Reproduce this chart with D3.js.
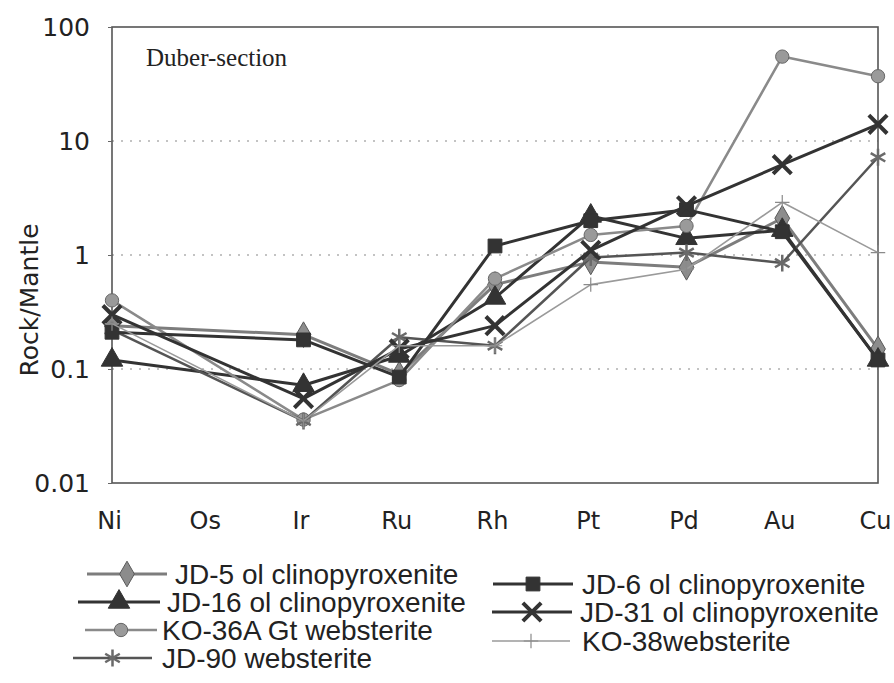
<!DOCTYPE html>
<html>
<head>
<meta charset="utf-8">
<script src="https://cdn.jsdelivr.net/npm/d3@7"></script>
<style>
  body { margin: 0; background: #fff; }
  svg { display: block; }
</style>
</head>
<body>
<svg id="chart" width="894" height="683"></svg>
<script>
// Element order along the x axis (Os has no analyses)
const categories = ["Ni", "Os", "Ir", "Ru", "Rh", "Pt", "Pd", "Au", "Cu"];
const yTickValues = [0.01, 0.1, 1, 10, 100];
const gridValues = [0.1, 1, 10];

const seriesNames = [
  "JD-5 ol clinopyroxenite",
  "JD-16 ol clinopyroxenite",
  "KO-36A Gt websterite",
  "JD-90 websterite",
  "JD-6 ol clinopyroxenite",
  "JD-31 ol clinopyroxenite",
  "KO-38websterite"
];

// Rock/Mantle ratios, one value per element (null = not determined)
const jd5  = [0.24, null, 0.20, 0.09, 0.55, 0.87, 0.78, 2.1, 0.15];
const jd16 = [0.12, null, 0.072, 0.13, 0.42, 2.2, 1.4, 1.65, 0.12];
const ko36a = [0.40, null, 0.036, 0.08, 0.62, 1.5, 1.8, 55, 37];
const jd90 = [0.22, null, 0.035, 0.19, 0.16, 0.95, 1.05, 0.85, 7.2];
const jd6  = [0.21, null, 0.18, 0.085, 1.2, 2.0, 2.5, 1.6, 0.12];
const jd31 = [0.30, null, 0.055, 0.15, 0.24, 1.1, 2.7, 6.2, 14];
const ko38 = [0.25, null, 0.035, 0.16, 0.16, 0.55, 0.75, 2.9, 1.05];

const seriesValues = [jd5, jd16, ko36a, jd90, jd6, jd31, ko38];

// Drawing styles for each sample
const styles = [
  { line: "#7d7d7d", width: 3,   sym: d3.symbolDiamond,  size: 190, fill: "#8c8c8c", stroke: "#5a5a5a", sw: 1 },
  { line: "#333",    width: 3,   sym: d3.symbolTriangle, size: 200, fill: "#333",    stroke: "#333",    sw: 1 },
  { line: "#8a8a8a", width: 2.5, sym: d3.symbolCircle,   size: 140, fill: "#9a9a9a", stroke: "#666",    sw: 1 },
  { line: "#555",    width: 2.5, sym: d3.symbolAsterisk, size: 200, fill: "none",    stroke: "#6a6a6a", sw: 2.5 },
  { line: "#333",    width: 3,   sym: d3.symbolSquare,   size: 190, fill: "#333",    stroke: "#333",    sw: 1 },
  { line: "#333",    width: 3,   sym: d3.symbolX,        size: 220, fill: "none",    stroke: "#333",    sw: 4 },
  { line: "#9a9a9a", width: 1.6, sym: d3.symbolPlus,     size: 70,  fill: "none",    stroke: "#8a8a8a", sw: 1.2 }
];

// Legend layout: two columns
const legendLayout = [
  { x1: 87, x2: 167, y: 574, tx: 175 },
  { x1: 78, x2: 160, y: 602, tx: 167 },
  { x1: 85, x2: 157, y: 630, tx: 162 },
  { x1: 73, x2: 152, y: 658, tx: 162 },
  { x1: 493, x2: 573, y: 584, tx: 582 },
  { x1: 492, x2: 572, y: 612, tx: 580 },
  { x1: 492, x2: 570, y: 641, tx: 582 }
];

const svg = d3.select("#chart");
const plot = { left: 112, right: 878, top: 27, bottom: 483 };

const x = d3.scalePoint().domain(categories).range([plot.left, plot.right]).padding(0);
const y = d3.scaleLog().domain([0.01, 100]).range([plot.bottom, plot.top]);

// Dotted gridlines
svg.append("g")
  .selectAll("line")
  .data(gridValues)
  .join("line")
  .attr("x1", plot.left).attr("x2", plot.right)
  .attr("y1", d => y(d)).attr("y2", d => y(d))
  .attr("stroke", "#888")
  .attr("stroke-width", 1.2)
  .attr("stroke-dasharray", "2,7");

// Plot frame
svg.append("rect")
  .attr("x", plot.left).attr("y", plot.top)
  .attr("width", plot.right - plot.left)
  .attr("height", plot.bottom - plot.top)
  .attr("fill", "none")
  .attr("stroke", "#555")
  .attr("stroke-width", 1.6);

// Y axis
const yAxis = svg.append("g")
  .attr("transform", `translate(${plot.left},0)`)
  .call(d3.axisLeft(y).tickValues(yTickValues).tickFormat(d => String(d)).tickSize(4).tickPadding(18));
yAxis.select(".domain").remove();
yAxis.selectAll(".tick line").attr("stroke", "#666");
yAxis.selectAll("text")
  .attr("font-family", "DejaVu Sans, Verdana, sans-serif")
  .attr("font-size", 25)
  .attr("fill", "#222");

// X axis labels
const xAxis = svg.append("g")
  .attr("transform", `translate(0,${plot.bottom})`)
  .call(d3.axisBottom(x).tickSize(0).tickPadding(29));
xAxis.select(".domain").remove();
xAxis.selectAll("text")
  .attr("font-family", "DejaVu Sans, Verdana, sans-serif")
  .attr("font-size", 24)
  .attr("fill", "#222")
  .attr("dx", -3);

// Axis title
svg.append("text")
  .attr("transform", "translate(38,300) rotate(-90)")
  .attr("text-anchor", "middle")
  .attr("font-family", "DejaVu Sans, Verdana, sans-serif")
  .attr("font-size", 25)
  .attr("fill", "#222")
  .text("Rock/Mantle");

// Panel title
svg.append("text")
  .attr("x", 146).attr("y", 66)
  .attr("font-family", "Liberation Serif, Times New Roman, serif")
  .attr("font-size", 25)
  .attr("fill", "#222")
  .text("Duber-section");

// Series: line then markers, in drawing order
const line = d3.line().x(d => x(d.cat)).y(d => y(d.v));

seriesValues.forEach((vals, i) => {
  const st = styles[i];
  const pts = categories.map((c, k) => ({ cat: c, v: vals[k] })).filter(d => d.v != null);
  const g = svg.append("g");
  g.append("path")
    .datum(pts)
    .attr("d", line)
    .attr("fill", "none")
    .attr("stroke", st.line)
    .attr("stroke-width", st.width)
    .attr("stroke-linejoin", "round");
  g.selectAll("path.mark")
    .data(pts)
    .join("path")
    .attr("class", "mark")
    .attr("transform", d => `translate(${x(d.cat)},${y(d.v)})`)
    .attr("d", d3.symbol().type(st.sym).size(st.size))
    .attr("fill", st.fill)
    .attr("stroke", st.stroke)
    .attr("stroke-width", st.sw);
});

// Legend
const legend = svg.append("g");
seriesNames.forEach((name, i) => {
  const st = styles[i];
  const L = legendLayout[i];
  legend.append("line")
    .attr("x1", L.x1).attr("x2", L.x2)
    .attr("y1", L.y).attr("y2", L.y)
    .attr("stroke", st.line)
    .attr("stroke-width", st.width);
  legend.append("path")
    .attr("transform", `translate(${(L.x1 + L.x2) / 2},${L.y})`)
    .attr("d", d3.symbol().type(st.sym).size(st.size))
    .attr("fill", st.fill)
    .attr("stroke", st.stroke)
    .attr("stroke-width", st.sw);
  legend.append("text")
    .attr("x", L.tx).attr("y", L.y)
    .attr("dy", "0.36em")
    .attr("font-family", "Liberation Sans, Arial, sans-serif")
    .attr("font-size", 28)
    .attr("fill", "#222")
    .text(name);
});
</script>
</body>
</html>
